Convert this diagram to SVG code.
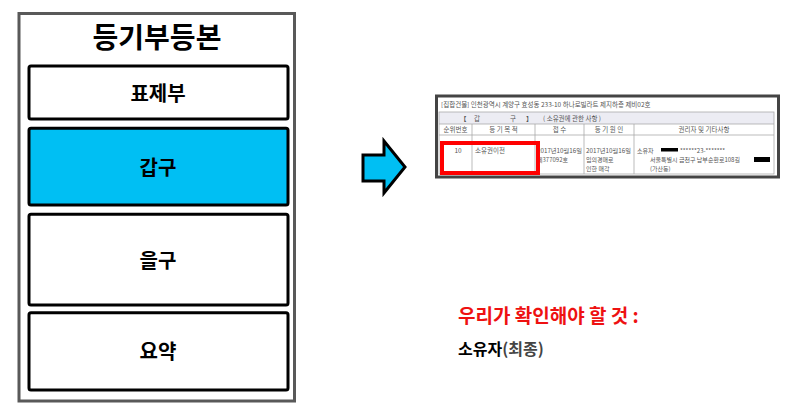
<svg xmlns="http://www.w3.org/2000/svg" width="795" height="416" viewBox="0 0 795 416">
<style>
.k{font-family:"Noto Sans CJK KR","Noto Sans",sans-serif;font-weight:bold;text-anchor:middle;fill:#000}
.box{fill:#fff;stroke:#000;stroke-width:3}
.d{font-family:"Noto Sans CJK KR","Noto Sans",sans-serif;font-size:6.5px;fill:#555}
.s{font-size:6px}
.dc{text-anchor:middle}
.ln{stroke:#aaa;stroke-width:0.8;fill:none}
</style>
<rect width="795" height="416" fill="#fff"/>
<g id="panel">
<rect x="19" y="13.5" width="275.5" height="387.5" fill="#fff" stroke="#595959" stroke-width="3"/>
<text class="k" x="157" y="48" font-size="28">등기부등본</text>
</g>
<g id="node-pyojebu">
<rect class="box" x="29" y="66" width="259" height="53" rx="2"/>
<text class="k" x="158" y="101" font-size="20">표제부</text>
</g>
<g id="node-gapgu">
<rect x="29" y="128.3" width="259" height="76.7" rx="2" fill="#00BFF3" stroke="#000" stroke-width="3"/>
<text class="k" x="158" y="175" font-size="20">갑구</text>
</g>
<g id="node-eulgu">
<rect class="box" x="29" y="214.3" width="259" height="90.7" rx="2"/>
<text class="k" x="158" y="268" font-size="20">을구</text>
</g>
<g id="node-yoyak">
<rect class="box" x="29" y="312.7" width="259" height="77.3" rx="2"/>
<text class="k" x="158" y="359" font-size="20">요약</text>
</g>
<g id="connectors">
<polygon points="363,155 384,155 384,141 405,167 384,193 384,181 363,181" fill="#00BFF3" stroke="#000" stroke-width="3" stroke-linejoin="miter"/>
</g>
<g id="document">
<rect x="436.5" y="96" width="342" height="81" fill="#fff" stroke="#444" stroke-width="3"/>
<text class="d" x="441" y="107">[집합건물] 인천광역시 계양구 효성동 233-10 하나로빌라트 제지하층 제비02호</text>
<rect x="439" y="112" width="335" height="12" fill="#ececf3"/>
<rect class="ln" x="439" y="112" width="335" height="62"/>
<line class="ln" x1="439" y1="124" x2="774" y2="124"/>
<line class="ln" x1="439" y1="135" x2="774" y2="135"/>
<line class="ln" x1="472" y1="124" x2="472" y2="174"/>
<line class="ln" x1="535" y1="124" x2="535" y2="174"/>
<line class="ln" x1="584" y1="124" x2="584" y2="174"/>
<line class="ln" x1="634" y1="124" x2="634" y2="174"/>
<text class="d" x="460" y="121" font-size="8px" fill="#222" font-weight="bold">【</text>
<text class="d" x="474" y="121" font-size="8px" fill="#333">갑</text>
<text class="d" x="510" y="121" font-size="8px" fill="#333">구</text>
<text class="d" x="526" y="121" font-size="8px" fill="#222" font-weight="bold">】</text>
<text class="d" x="543" y="121">( 소유권에 관한 사항 )</text>
<text class="d dc" x="455.5" y="132">순위번호</text>
<text class="d dc" x="503.5" y="132">등 기 목 적</text>
<text class="d dc" x="559.5" y="132">접 수</text>
<text class="d dc" x="609" y="132">등 기 원 인</text>
<text class="d dc" x="704" y="132">권리자 및 기타사항</text>
<text class="d dc" x="458" y="153">10</text>
<text class="d" x="475" y="153">소유권이전</text>
<text class="d s" x="537" y="153" textLength="45" lengthAdjust="spacingAndGlyphs">2017년10월16일</text>
<text class="d s" x="537" y="162">제377092호</text>
<text class="d s" x="586" y="153" textLength="45" lengthAdjust="spacingAndGlyphs">2017년10월16일</text>
<text class="d s" x="586" y="162">임의경매로</text>
<text class="d s" x="586" y="171">인한 매각</text>
<text class="d s" x="637" y="153">소유자</text>
<rect x="661" y="148" width="17" height="3.5" fill="#000"/>
<text class="d s" x="680" y="153" fill="#999">******23-*******</text>
<text class="d s" x="650" y="162">서울특별시 금천구 남부순환로108길</text>
<rect x="754" y="157" width="16" height="5" fill="#000"/>
<text class="d s" x="650" y="171">(가산동)</text>
<rect x="442" y="143" width="96" height="30" fill="none" stroke="#ff0000" stroke-width="4"/>
</g>
<g id="notes">
<text class="k" x="458" y="323" font-size="19" style="text-anchor:start;fill:#ee1111">우리가 확인해야 할 것 :</text>
<text class="k" x="458" y="355" font-size="16" style="text-anchor:start">소유자<tspan fill="#444">(최종)</tspan></text>
</g>
</svg>
